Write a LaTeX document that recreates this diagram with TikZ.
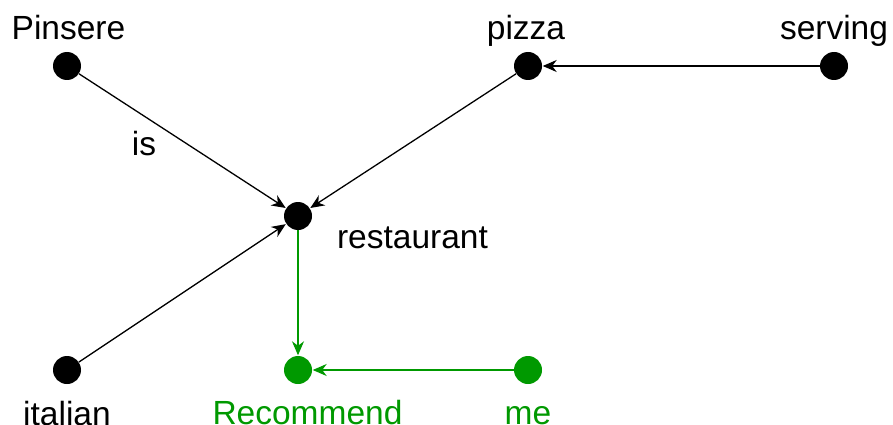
\documentclass[tikz,border=0pt]{standalone}
\usepackage{fontspec}
\setmainfont{Liberation Sans}
\usetikzlibrary{arrows.meta}
\definecolor{dgreen}{RGB}{0,153,0}
\tikzset{
  x=1pt, y=-1pt,
  dot/.style={circle, fill=#1, draw=none, minimum size=28pt, inner sep=0pt},
  dot/.default=black,
  lbl/.style={font=\fontsize{33.5}{38}\selectfont, text=#1, inner sep=0pt, anchor=base},
  lbl/.default=black,
  edge/.style={draw=#1, line width=1.3pt, -{Stealth[length=14pt,width=12pt,inset=4.5pt]}, shorten >=0.5pt},
  edge/.default=black
}
\begin{document}
\begin{tikzpicture}
\useasboundingbox (0,0) rectangle (893,425);
% vertices
\node[dot] (pinsere) at (67,66) {};
\node[dot] (pizza) at (528,66) {};
\node[dot] (serving) at (834,66) {};
\node[dot] (rest) at (298,216) {};
\node[dot] (italian) at (67,370) {};
\node[dot=dgreen] (rec) at (298,370) {};
\node[dot=dgreen] (me) at (528,370) {};
% labels (placed by baseline)
\node[lbl] (tPinsere) at (68.5,40) {Pinsere};
\node[lbl] (tPizza) at (526,40) {pizza};
\node[lbl] (tServing) at (834,40) {serving};
\node[lbl] (tRest) at (412.5,248) {restaurant};
\node[lbl] (tItalian) at (67,425) {italian};
\node[lbl=dgreen] (tRec) at (307.5,424) {Recommend};
\node[lbl=dgreen] (tMe) at (528,424) {me};
\node[lbl] (tIs) at (144,155) {is};
% connectors
\draw[edge] (pinsere) -- (rest);
\draw[edge] (pizza) -- (rest);
\draw[edge] (italian) -- (rest);
\draw[edge] (serving) -- (pizza);
\draw[edge=dgreen] (rest) -- (rec);
\draw[edge=dgreen] (me) -- (rec);
\end{tikzpicture}
\end{document}
